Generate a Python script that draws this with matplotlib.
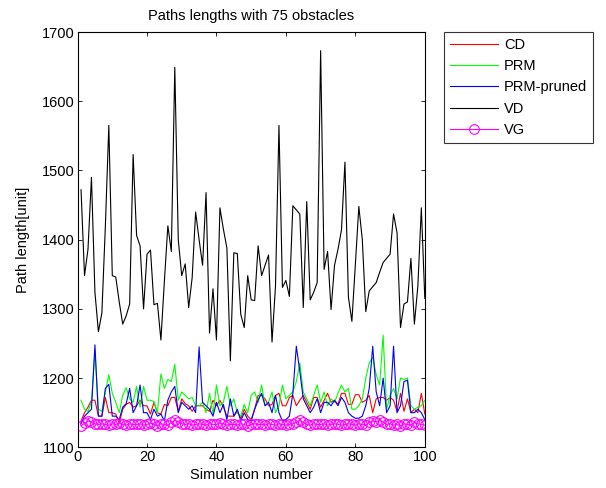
import matplotlib
matplotlib.use("Agg")
import matplotlib.pyplot as plt
import numpy as np

plt.rcParams['font.family'] = ['Liberation Sans', 'DejaVu Sans']

# simulation index 1..100
sim = np.arange(1, 101)

cd = [1138, 1150, 1158, 1168, 1168, 1145, 1145, 1172, 1150, 1150,
      1148, 1135, 1155, 1162, 1165, 1158, 1160, 1168, 1160, 1160,
      1148, 1165, 1150, 1148, 1162, 1160, 1172, 1172, 1152, 1170,
      1163, 1160, 1152, 1160, 1160, 1160, 1155, 1152, 1168, 1160,
      1168, 1158, 1145, 1145, 1145, 1152, 1142, 1155, 1145, 1140,
      1155, 1175, 1175, 1170, 1160, 1162, 1175, 1178, 1160, 1160,
      1172, 1175, 1160, 1168, 1175, 1165, 1155, 1172, 1172, 1158,
      1168, 1178, 1165, 1168, 1162, 1178, 1178, 1162, 1162, 1176,
      1176, 1165, 1168, 1175, 1150, 1170, 1172, 1172, 1168, 1172,
      1168, 1152, 1178, 1152, 1170, 1150, 1155, 1150, 1178, 1148]

prm = [1168, 1155, 1152, 1165, 1240, 1155, 1152, 1180, 1205, 1178,
       1165, 1150, 1175, 1186, 1170, 1165, 1188, 1158, 1188, 1168,
       1168, 1166, 1150, 1206, 1185, 1198, 1195, 1220, 1168, 1180,
       1175, 1170, 1172, 1160, 1160, 1165, 1150, 1178, 1148, 1190,
       1160, 1165, 1188, 1160, 1170, 1150, 1145, 1162, 1150, 1175,
       1180, 1165, 1190, 1160, 1165, 1180, 1150, 1160, 1190, 1170,
       1175, 1180, 1195, 1222, 1180, 1170, 1160, 1175, 1190, 1165,
       1180, 1160, 1170, 1165, 1178, 1190, 1180, 1185, 1155, 1155,
       1160, 1170, 1200, 1222, 1230, 1205, 1190, 1262, 1155, 1175,
       1185, 1170, 1200, 1198, 1200, 1160, 1155, 1158, 1160, 1168]

prm_pruned = [1134, 1145, 1150, 1155, 1248, 1145, 1145, 1185, 1191, 1145,
              1145, 1140, 1158, 1163, 1185, 1150, 1160, 1190, 1150, 1150,
              1140, 1155, 1145, 1148, 1138, 1168, 1180, 1188, 1150, 1165,
              1160, 1155, 1160, 1150, 1245, 1165, 1160, 1155, 1145, 1165,
              1150, 1162, 1140, 1170, 1145, 1155, 1138, 1150, 1140, 1138,
              1155, 1168, 1178, 1160, 1165, 1150, 1175, 1150, 1138, 1140,
              1145, 1178, 1246, 1210, 1170, 1160, 1150, 1158, 1170, 1150,
              1165, 1165, 1160, 1168, 1160, 1172, 1165, 1150, 1145, 1142,
              1142, 1145, 1160, 1185, 1246, 1180, 1160, 1200, 1150, 1160,
              1246, 1150, 1160, 1195, 1197, 1150, 1150, 1155, 1150, 1140]

vd = [1472, 1348, 1386, 1490, 1324, 1267, 1294, 1419, 1565, 1348,
      1346, 1310, 1278, 1290, 1307, 1523, 1406, 1391, 1300, 1379,
      1385, 1306, 1308, 1255, 1340, 1420, 1383, 1649, 1400, 1348,
      1365, 1302, 1345, 1440, 1400, 1363, 1468, 1265, 1329, 1255,
      1446, 1415, 1388, 1225, 1381, 1380, 1292, 1273, 1348, 1313,
      1312, 1391, 1348, 1363, 1378, 1252, 1333, 1565, 1331, 1341,
      1318, 1449, 1443, 1437, 1302, 1455, 1313, 1324, 1338, 1673,
      1357, 1383, 1299, 1363, 1386, 1414, 1512, 1317, 1282, 1364,
      1448, 1400, 1296, 1326, 1332, 1338, 1353, 1367, 1373, 1379,
      1437, 1410, 1273, 1307, 1310, 1373, 1278, 1333, 1446, 1315]

vg = [1131, 1135, 1138, 1137, 1134, 1133, 1134, 1133, 1132, 1134,
      1133, 1135, 1133, 1132, 1134, 1133, 1133, 1134, 1132, 1133,
      1135, 1133, 1131, 1134, 1133, 1132, 1136, 1139, 1137, 1134,
      1133, 1134, 1132, 1133, 1134, 1133, 1132, 1134, 1133, 1133,
      1135, 1134, 1132, 1133, 1133, 1132, 1134, 1133, 1131, 1133,
      1134, 1133, 1133, 1132, 1134, 1133, 1132, 1134, 1133, 1132,
      1133, 1134, 1136, 1139, 1136, 1133, 1132, 1134, 1133, 1133,
      1134, 1132, 1133, 1134, 1133, 1132, 1133, 1134, 1133, 1132,
      1134, 1133, 1132, 1136, 1138, 1137, 1139, 1137, 1133, 1134,
      1132, 1133, 1131, 1134, 1133, 1132, 1136, 1134, 1133, 1132]

fig = plt.figure(figsize=(6.06, 4.88), dpi=100)
ax = fig.add_axes([0.128, 0.0834, 0.573, 0.851])

lw = 0.8
ax.plot(sim, cd, color='red', lw=lw, label='CD')
ax.plot(sim, prm, color='#00ff00', lw=lw, label='PRM')
ax.plot(sim, prm_pruned, color='blue', lw=lw, label='PRM-pruned')
ax.plot(sim, vd, color='black', lw=lw, label='VD')
ax.plot(sim, vg, color='magenta', lw=lw, marker='o', markersize=7,
        markerfacecolor='none', markeredgewidth=0.8, label='VG')

ax.set_xlim(0, 100)
ax.set_ylim(1100, 1700)
ax.set_xticks(np.arange(0, 101, 20))
ax.set_yticks(np.arange(1100, 1701, 100))
ax.tick_params(direction='in', length=3, width=0.6, top=True, right=True,
               labelsize=10.5, pad=2)
for s in ax.spines.values():
    s.set_linewidth(0.8)

ax.set_title('Paths lengths with 75 obstacles', fontsize=10.5, pad=9)
ax.set_xlabel('Simulation number', fontsize=10.5, labelpad=3)
ax.set_ylabel('Path length[unit]', fontsize=10.5, labelpad=9)

leg = ax.legend(loc='upper left', bbox_to_anchor=(0.7327, 0.9344),
                bbox_transform=fig.transFigure, borderaxespad=0,
                fancybox=False, edgecolor='black', fontsize=10.5,
                handlelength=3.3, handletextpad=0.4, labelspacing=0.5,
                borderpad=0.4)
leg.get_frame().set_linewidth(0.8)

fig.savefig('out.png', dpi=100)
